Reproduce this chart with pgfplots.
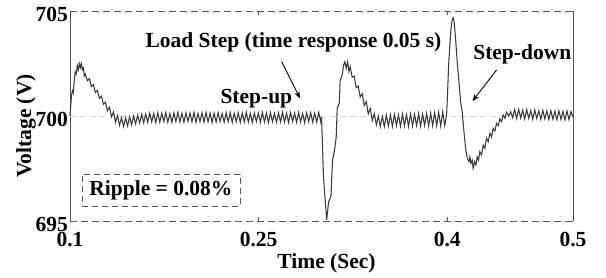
\documentclass[border=0pt]{standalone}
\usepackage{fontspec}
\setmainfont{Liberation Serif}
\usepackage{pgfplots}
\pgfplotsset{compat=1.18}
\usetikzlibrary{arrows.meta}
\definecolor{trace}{RGB}{58,58,58}
\definecolor{frame}{RGB}{85,85,85}
\begin{document}
\begin{tikzpicture}[font=\fontsize{21.5}{25}\selectfont\bfseries]
\path[use as bounding box] (-70pt,-57pt) rectangle (536pt,221pt);
\begin{axis}[
 scale only axis, width=503pt, height=210pt,
 xmin=0.1, xmax=0.5, ymin=695, ymax=705,
 xtick={0.1,0.25,0.4,0.5}, ytick={695,700,705},
 /pgf/number format/assume math mode=true,
 ticklabel style={font=\fontsize{21.5}{25}\selectfont\bfseries},
 xticklabel style={yshift=-8pt},
 yticklabel style={inner xsep=2pt, yshift=-3pt},
 separate axis lines,
 x axis line style={draw=frame, line width=0.9pt, dash pattern=on 7pt off 4pt},
 y axis line style={draw=frame, line width=0.9pt},
 major tick length=4pt,
 tick style={draw=frame, line width=0.8pt},
 every axis x label/.style={at={(axis description cs:0.51,-0.2)}, anchor=center},
 every axis y label/.style={at={(axis description cs:-0.0875,0.452)}, rotate=90, anchor=center},
 xlabel={Time (Sec)}, ylabel={Voltage (V)},
 clip=false,
]
\draw[gray!30, line width=0.9pt, dash pattern=on 6pt off 4pt] (axis cs:0.1,700) -- (axis cs:0.5,700);
\addplot[trace, line width=1.05pt] coordinates {
(0.1000,700.00)(0.1006,700.50)(0.1012,701.00)(0.1020,701.20)(0.1026,701.10)(0.1034,701.70)(0.1042,702.10)(0.1050,702.00)(0.1058,702.40)(0.1066,702.20)(0.1074,702.50)(0.1082,702.30)(0.1090,702.50)(0.1098,702.20)(0.1106,702.30)(0.1114,701.90)(0.1122,702.00)
(0.1138,701.68)(0.1154,701.78)(0.1170,701.40)(0.1186,701.50)(0.1202,701.12)(0.1218,701.22)(0.1234,700.84)(0.1250,700.94)(0.1266,700.56)(0.1282,700.66)(0.1298,700.25)(0.1314,700.42)(0.1330,699.96)(0.1346,700.20)(0.1362,699.70)(0.1378,700.02)(0.1394,699.56)(0.1410,699.92)(0.1426,699.50)(0.1442,699.91)(0.1458,699.53)(0.1474,699.96)(0.1490,699.58)(0.1506,700.00)(0.1522,699.62)(0.1538,700.04)(0.1554,699.66)(0.1570,700.08)
(0.1586,699.68)(0.1602,700.10)(0.1618,699.70)(0.1634,700.14)(0.1650,699.72)(0.1666,700.12)(0.1682,699.68)(0.1698,700.16)(0.1714,699.71)(0.1730,700.13)
(0.1746,699.74)(0.1762,700.17)(0.1778,699.70)(0.1794,700.12)(0.1810,699.69)(0.1826,700.15)(0.1842,699.73)(0.1858,700.18)(0.1874,699.72)(0.1890,700.13)
(0.1906,699.70)(0.1922,700.16)(0.1938,699.74)(0.1954,700.14)(0.1970,699.71)(0.1986,700.17)(0.2002,699.69)(0.2018,700.12)(0.2034,699.73)(0.2050,700.15)
(0.2066,699.70)(0.2082,700.18)(0.2098,699.72)(0.2114,700.14)(0.2130,699.68)(0.2146,700.13)(0.2162,699.71)(0.2178,700.16)(0.2194,699.74)(0.2210,700.12)
(0.2226,699.70)(0.2242,700.15)(0.2258,699.72)(0.2274,700.17)(0.2290,699.69)(0.2306,700.13)(0.2322,699.73)(0.2338,700.16)(0.2354,699.70)(0.2370,700.14)
(0.2386,699.72)(0.2402,700.18)(0.2418,699.71)(0.2434,700.12)(0.2450,699.69)(0.2466,700.15)(0.2482,699.74)(0.2498,700.13)(0.2514,699.70)(0.2530,700.17)
(0.2546,699.72)(0.2562,700.14)(0.2578,699.68)(0.2594,700.16)(0.2610,699.73)(0.2626,700.12)(0.2642,699.70)(0.2658,700.15)(0.2674,699.72)(0.2690,700.18)
(0.2706,699.71)(0.2722,700.13)(0.2738,699.69)(0.2754,700.16)(0.2770,699.74)(0.2786,700.14)(0.2802,699.70)(0.2818,700.17)(0.2834,699.72)(0.2850,700.12)
(0.2866,699.68)(0.2882,700.15)(0.2898,699.73)(0.2914,700.16)(0.2930,699.70)(0.2946,700.13)(0.2962,699.71)(0.2978,700.17)(0.2994,699.72)
(0.3000,699.95)(0.3008,698.60)(0.3015,697.20)(0.3028,696.10)(0.3041,695.05)(0.3057,695.92)(0.3075,696.16)(0.3088,697.90)(0.3104,698.38)(0.3117,699.00)(0.3125,700.37)(0.3141,700.60)(0.3149,701.71)(0.3162,701.87)(0.3176,702.43)(0.3186,702.59)(0.3197,702.27)(0.3208,702.59)(0.3218,702.11)(0.3228,702.35)
(0.3244,701.85)(0.3260,701.90)(0.3276,701.35)(0.3292,701.43)(0.3308,700.90)(0.3324,701.06)(0.3340,700.50)(0.3356,700.68)(0.3372,700.10)(0.3388,700.36)(0.3404,699.78)(0.3420,700.12)(0.3436,699.58)(0.3452,700.00)(0.3468,699.50)(0.3484,699.98)(0.3500,699.50)
(0.3516,700.04)(0.3532,699.52)(0.3548,700.06)(0.3564,699.50)(0.3580,700.08)(0.3596,699.54)(0.3612,700.05)(0.3628,699.51)(0.3644,700.09)(0.3660,699.53)
(0.3676,700.06)(0.3692,699.50)(0.3708,700.10)(0.3724,699.52)(0.3740,700.07)(0.3756,699.54)(0.3772,700.11)(0.3788,699.51)(0.3804,700.08)(0.3820,699.55)
(0.3836,700.12)(0.3852,699.52)(0.3868,700.14)(0.3884,699.53)(0.3900,700.16)(0.3916,699.54)(0.3932,700.18)(0.3948,699.52)(0.3964,700.20)(0.3980,699.54)
(0.3995,700.05)(0.4003,701.16)(0.4011,702.43)(0.4021,703.38)(0.4029,704.10)(0.4039,704.57)(0.4047,704.68)(0.4055,704.49)(0.4066,703.70)(0.4079,702.59)(0.4093,701.63)(0.4106,700.68)(0.4119,700.20)(0.4133,699.25)(0.4146,698.46)(0.4159,697.98)(0.4172,697.82)(0.4180,698.06)(0.4188,697.75)(0.4198,697.90)(0.4206,697.51)(0.4218,697.82)(0.4228,697.67)(0.4238,698.06)(0.4249,697.90)(0.4259,698.30)(0.4273,698.14)(0.4286,698.62)(0.4299,698.46)(0.4312,698.94)(0.4326,698.78)(0.4339,699.18)(0.4352,699.00)(0.4365,699.41)(0.4379,699.29)(0.4392,699.65)(0.4405,699.54)(0.4419,699.86)(0.4432,699.73)(0.4445,700.05)(0.4459,699.89)(0.4472,700.18)(0.4488,699.99)(0.4504,700.20)
(0.4520,699.92)(0.4536,700.30)(0.4552,699.88)(0.4568,700.32)(0.4584,699.90)(0.4600,700.28)(0.4616,699.86)(0.4632,700.30)(0.4648,699.89)(0.4664,700.26)
(0.4680,699.85)(0.4696,700.29)(0.4712,699.88)(0.4728,700.25)(0.4744,699.84)(0.4760,700.27)(0.4776,699.86)(0.4792,700.24)(0.4808,699.83)(0.4824,700.26)
(0.4840,699.85)(0.4856,700.23)(0.4872,699.82)(0.4888,700.25)(0.4904,699.84)(0.4920,700.22)(0.4936,699.81)(0.4952,700.24)(0.4968,699.83)(0.4984,700.21)(0.5000,699.95)
};
\node[anchor=center] at (axis cs:0.2777,703.5) {Load Step (time response 0.05 s)};
\node[anchor=center] at (axis cs:0.2482,700.83) {Step-up};
\node[anchor=center] at (axis cs:0.4597,702.93) {Step-down};
\draw[-{Stealth[length=7pt,width=5.5pt]}, line width=0.9pt] (axis cs:0.2683,702.59) -- (axis cs:0.2829,700.84);
\draw[-{Stealth[length=7pt,width=5.5pt]}, line width=0.9pt] (axis cs:0.4392,702.19) -- (axis cs:0.4201,700.71);
\node[draw=frame, dash pattern=on 6pt off 4pt, line width=0.8pt, minimum width=158pt, minimum height=32pt, inner sep=0pt] at (axis cs:0.1723,696.48) {Ripple = 0.08\%};
\end{axis}
\end{tikzpicture}
\end{document}
